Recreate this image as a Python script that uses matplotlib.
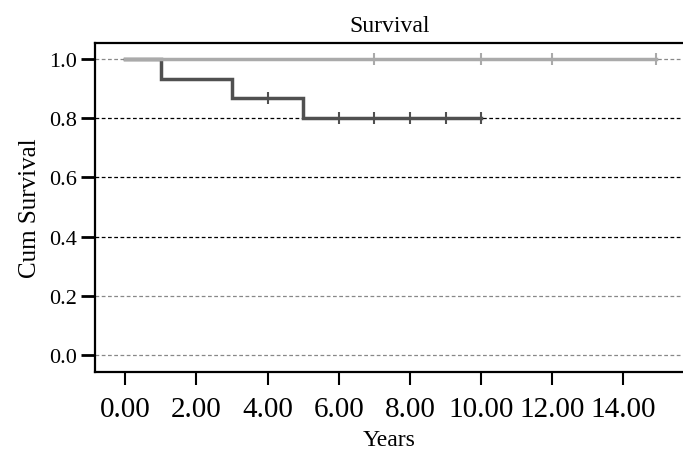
import matplotlib
matplotlib.use("Agg")
import matplotlib.pyplot as plt

# ---- data ----
grp1_times = [0, 1, 3, 5, 10]
grp1_surv = [1.0, 0.933, 0.867, 0.800, 0.800]
grp1_cens_t = [4, 6, 7, 8, 9, 10]
grp1_cens_s = [0.867, 0.8, 0.8, 0.8, 0.8, 0.8]

grp2_times = [0, 14.9]
grp2_surv = [1.0, 1.0]
grp2_cens_t = [7, 10, 12, 14.9]
grp2_cens_s = [1.0, 1.0, 1.0, 1.0]

x_ticks = [0, 2, 4, 6, 8, 10, 12, 14]
x_ticklabels = ["0.00", "2.00", "4.00", "6.00", "8.00", "10.00", "12.00", "14.00"]
y_ticks = [0.0, 0.2, 0.4, 0.6, 0.8, 1.0]
y_ticklabels = ["0.0", "0.2", "0.4", "0.6", "0.8", "1.0"]
ref_black = [0.4, 0.6, 0.8]
ref_gray = [0.0, 0.2, 1.0]

plt.rcParams['font.family'] = ['Liberation Serif', 'DejaVu Serif']

W, H = 683, 452
fig = plt.figure(figsize=(W / 100, H / 100), dpi=100)
left, right, top, bottom = 95, 684, 44, 373
ax = fig.add_axes([left / W, 1 - bottom / H, (right - left) / W, (bottom - top) / H])

ax.set_xlim(-0.85, 15.70)
ax.set_ylim(-0.0574, 1.054)

for y in ref_black:
    ax.axhline(y, color="black", lw=0.9, ls=(0, (3, 2)), zorder=1)
for y in ref_gray:
    ax.axhline(y, color="#888888", lw=0.9, ls=(0, (3, 2)), zorder=1)

dark = "#505050"
light = "#aaaaaa"
ax.step(grp1_times, grp1_surv, where="post", color=dark, lw=2.5, zorder=3,
        solid_joinstyle="miter")
ax.plot(grp1_cens_t, grp1_cens_s, ls="none", marker="|", ms=8, mew=1.5,
        color=dark, zorder=3)
ax.step(grp2_times, grp2_surv, where="post", color=light, lw=2.5, zorder=4)
ax.plot(grp2_cens_t, grp2_cens_s, ls="none", marker="|", ms=8, mew=1.5,
        color=light, zorder=4)

ax.set_xticks(x_ticks)
ax.set_xticklabels(x_ticklabels, fontsize=21)
ax.set_yticks(y_ticks)
ax.set_yticklabels(y_ticklabels, fontsize=16)

ax.tick_params(axis="x", direction="out", length=9, width=1.5, pad=8, color="black")
ax.tick_params(axis="y", direction="out", length=10, width=2, pad=3, color="black")

for s in ["left", "bottom", "top"]:
    ax.spines[s].set_linewidth(1.6)
ax.spines["right"].set_visible(False)

ax.set_xlabel("Years", fontsize=17, labelpad=5)
ax.set_ylabel("Cum Survival", fontsize=18, labelpad=6)
ax.set_title("Survival", fontsize=17, pad=9)

fig.savefig("out.png", dpi=100)
